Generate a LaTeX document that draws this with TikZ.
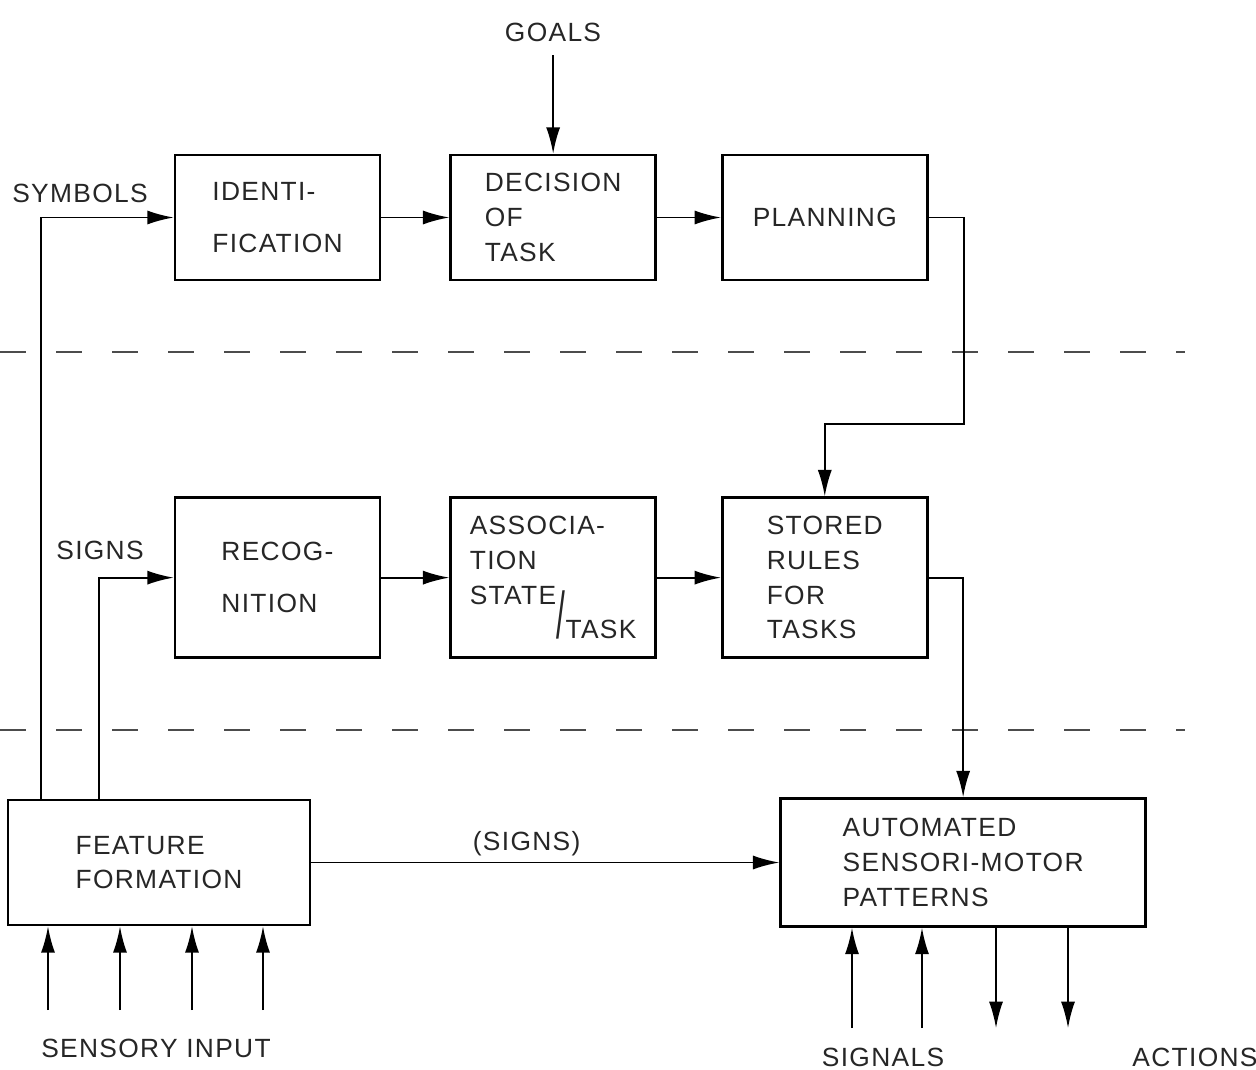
\documentclass[tikz,border=0pt]{standalone}
\usepackage{fontspec}
\setmainfont[LetterSpace=5]{Liberation Sans}
\usepackage{graphicx}
\usepackage{tikz}
\usetikzlibrary{positioning, arrows.meta,
calc
}
\newcommand{\lbl}{\fontsize{15}{19.8}\selectfont}
\tikzset{%
  box/.style={draw, line width=1.5pt, minimum width=4.1cm, minimum height=2.5cm, align=left}, % every block of the scheme
  tall/.style={minimum height=3.2cm}, % blocks of the middle level
  level line/.style={draw, line width=1pt, black!70, dash pattern=on 0.52cm off 0.6cm}
}

\begin{document}
\begin{tikzpicture}[node distance=1.36cm, line width=1.1pt, every node/.style={font=\lbl, text=black!85}, >={Latex[length=15pt,width=8pt]}]
\useasboundingbox (0,0) rectangle (25.12,-21.4);

\node[box] (ide) at (5.55,-4.35) {IDENTI-\\[10pt]FICATION};
\node[box, right=of ide] (dec) {DECISION\\OF\\TASK};
\node[box, right=1.28cm of dec] (pla) {PLANNING};
\node (goals) at (11.06,-0.64) {GOALS};
\node (l0) at (1.6,-3.86) {SYMBOLS};

\node[box, tall, below=4.3cm of ide] (rec) {RECOG-\\[10pt]NITION};
\node[box, tall, right=of rec] (ass) {ASSOCIA-\\TION\\STATE\\\hspace*{1.74cm}\smash{\scalebox{1.2}[2.5]{/}}TASK};
\node[box, tall, right=1.28cm of ass] (sto) {STORED\\RULES\\FOR\\TASKS};
\node (l1) at (2.0,-11.0) {SIGNS};

\node[box, minimum width=6.04cm] (fea) at (3.18,-17.25) {FEATURE\\FORMATION};
\node[box, minimum width=7.3cm, minimum height=2.56cm, right=9.36cm of fea] (aut) {AUTOMATED\\SENSORI-MOTOR\\PATTERNS};
\node (l2) at (3.12,-20.96) {SENSORY INPUT};
\node (l3) at (17.66,-21.14) {SIGNALS};
\node (l4) at (23.9,-21.14) {ACTIONS};

% levels
\draw[level line] (0,-7.04) -- (23.7,-7.04);
\draw[level line] (0,-14.6) -- (23.7,-14.6);

\draw[->, shorten <=4pt] (dec.north |- goals.south) -- (dec.north);
\draw[->] (ide) -- (dec);
\draw[->] (dec) -- (pla);
\draw[->] (pla.east) -- ++(0.71,0) |- ([yshift=1.44cm]sto.north) -- (sto.north);

\draw[->] (rec) -- (ass);
\draw[->] (ass) -- (sto);
\draw[->] (sto.east) -| (aut.north);

\draw[->] ([xshift=0.68cm]fea.north west) |- (ide);
\draw[->] ([xshift=1.84cm]fea.north west) |- (rec);
\draw[->] (fea) -- node[above, pos=0.46] {(SIGNS)} (aut);

\foreach \x [count=\i] in {0.96, 2.4, 3.84, 5.26} {
  \coordinate (s\i) at (\x,-20.2);
  \draw[->] (s\i) -- (s\i |- fea.south);
}
\foreach \x [count=\i] in {17.04, 18.44} {
  \coordinate (g\i) at (\x,-20.56);
  \draw[->] (g\i) -- (g\i |- aut.south);
}
\foreach \x [count=\i] in {19.92, 21.36} {
  \coordinate (a\i) at (\x,-20.56);
  \draw[->] (a\i |- aut.south) -- (a\i);
}

\end{tikzpicture}
\end{document}
